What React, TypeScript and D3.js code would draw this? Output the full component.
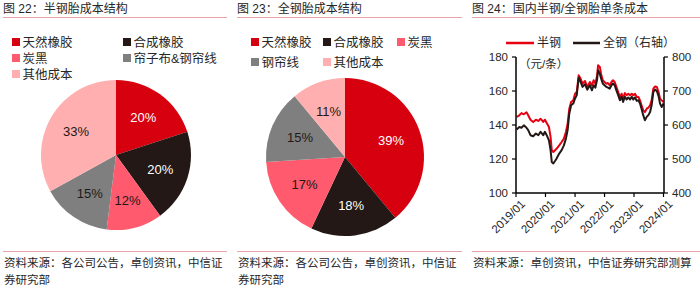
import React from 'react'
import * as d3 from 'd3'

const FONT = '"Liberation Sans", Arial, "Noto Sans CJK SC", sans-serif'
const TEXT = '#262626'
const RULE = '#E8A3A6'

// 图 22 半钢胎
const semiLabels = ['天然橡胶', '合成橡胶', '炭黑', '帘子布&钢帘线', '其他成本']
const semiValues = [20, 20, 12, 15, 33]
const semiColors = ['#D7000F', '#231815', '#FF5A6E', '#7F7F7F', '#FFAFAF']

// 图 23 全钢胎
const allLabels = ['天然橡胶', '合成橡胶', '炭黑', '钢帘线', '其他成本']
const allValues = [39, 18, 17, 15, 11]
const allColors = ['#D7000F', '#231815', '#FF5A6E', '#7F7F7F', '#FFAFAF']

const darkSlices = ['#D7000F', '#231815']

// 图 24 单条成本
const costDates = [
  '2019-01-09', '2019-02-11', '2019-03-10', '2019-04-08', '2019-05-11', '2019-06-01', '2019-06-29', '2019-08-02',
  '2019-09-04', '2019-10-04', '2019-11-01', '2019-12-04', '2019-12-25', '2020-01-16', '2020-02-13', '2020-03-04',
  '2020-03-19', '2020-04-07', '2020-04-28', '2020-05-16', '2020-06-19', '2020-07-19', '2020-08-16', '2020-09-10',
  '2020-10-01', '2020-10-22', '2020-11-13', '2020-12-10', '2021-01-01', '2021-01-22', '2021-02-15', '2021-03-10',
  '2021-04-04', '2021-05-04', '2021-06-01', '2021-07-04', '2021-07-29', '2021-08-19', '2021-09-10', '2021-10-01',
  '2021-10-13', '2021-11-04', '2021-11-19', '2021-12-10', '2022-01-01', '2022-01-25', '2022-02-12', '2022-03-07',
  '2022-03-28', '2022-04-16', '2022-05-07', '2022-05-28', '2022-06-19', '2022-07-10', '2022-08-01', '2022-08-19',
  '2022-09-10', '2022-10-01', '2022-10-22', '2022-11-13', '2022-12-04', '2022-12-22', '2023-01-13', '2023-02-04',
  '2023-02-25', '2023-03-16', '2023-04-04', '2023-04-25', '2023-05-16', '2023-06-07', '2023-06-28', '2023-07-19',
  '2023-08-07', '2023-08-28', '2023-09-19', '2023-10-10', '2023-11-01', '2023-11-19', '2023-12-10', '2024-01-01'
]
// 半钢 (左轴, 元/条)
const semiCost = [
  144.7, 145.7, 147, 146.3, 147.5, 145.7, 143.1, 141.8, 143.1, 142.4, 143.7, 141.8, 143.1, 141.2, 138.8, 133,
  125.1, 124.1, 125.1, 126, 128, 130, 132, 135.9, 140.8, 149.6, 153.5, 154.5, 158.4, 159.4, 169.2, 167.3,
  164.3, 165.9, 162.4, 165.3, 163.3, 166.3, 164.3, 169.2, 175.1, 174.1, 170.2, 166.3, 165.3, 164.3, 164.7, 163.3,
  165.3, 166.3, 165.3, 162.4, 159.4, 156.5, 158.4, 155.5, 158.8, 157.5, 158.4, 157.5, 158.4, 157.5, 158.4, 156.5,
  156.5, 154.5, 151.6, 148.6, 147.6, 149.6, 150.2, 151.6, 154.5, 161.4, 162.7, 162.4, 159.4, 155.5, 154.5, 153.5
]
// 全钢 (右轴, 元/条)
const allCost = [
  587, 594, 592, 599, 592, 585, 570, 567, 575, 570, 580, 570, 580, 570, 555, 526,
  491, 487, 494, 501, 516, 526, 540, 560, 585, 634, 658, 663, 678, 688, 739, 727,
  712, 720, 704, 717, 702, 717, 710, 734, 761, 751, 737, 722, 717, 712, 710, 707,
  717, 722, 717, 702, 688, 673, 683, 668, 683, 675, 681, 675, 683, 675, 681, 671,
  673, 663, 648, 629, 614, 624, 629, 638, 658, 697, 704, 700, 685, 663, 653, 663
]
const leftTicks = [100, 120, 140, 160, 180]
const rightTicks = [400, 500, 600, 700, 800]
const yearTicks = ['2019-01-01', '2020-01-01', '2021-01-01', '2022-01-01', '2023-01-01', '2024-01-01']

const parse = d3.timeParse('%Y-%m-%d')

function Pie({ cx, cy, r, values, colors }: { cx: number; cy: number; r: number; values: number[]; colors: string[] }) {
  const arcs = d3.pie<number>().sort(null).value(d => d)(values)
  const arc = d3.arc<d3.PieArcDatum<number>>().innerRadius(0).outerRadius(r)
  const labelArc = d3.arc<d3.PieArcDatum<number>>().innerRadius(r * 0.62).outerRadius(r * 0.62)
  return (
    <g transform={`translate(${cx},${cy})`}>
      {arcs.map((a, i) => (
        <path key={i} d={arc(a) || ''} fill={colors[i]} />
      ))}
      {arcs.map((a, i) => {
        const [x, y] = labelArc.centroid(a)
        return (
          <text key={'l' + i} x={x} y={y} dy="0.36em" textAnchor="middle" fontSize={13}
            fill={darkSlices.includes(colors[i]) ? '#fff' : '#231815'}>
            {a.data}%
          </text>
        )
      })}
    </g>
  )
}

function Legend({ labels, colors, cols, y0, rowH }: { labels: string[]; colors: string[]; cols: number[]; y0: number; rowH: number }) {
  return (
    <g>
      {labels.map((l, i) => {
        const x = cols[i % cols.length]
        const y = y0 + Math.floor(i / cols.length) * rowH
        return (
          <g key={l}>
            <rect x={x} y={y - 4} width={8} height={8} fill={colors[i]} />
            <text x={x + 10.5} y={y} dy="0.36em" fontSize={12.5} fill={TEXT}>{l}</text>
          </g>
        )
      })}
    </g>
  )
}

function Frame({ x0, x1, title, source }: { x0: number; x1: number; title: string; source: string[] }) {
  return (
    <g>
      <text x={x0} y={13} fontSize={12} fill={TEXT}>{title}</text>
      <line x1={x0} x2={x1} y1={17.5} y2={17.5} stroke={RULE} strokeWidth={1} />
      <line x1={x0} x2={x1} y1={251.5} y2={251.5} stroke={RULE} strokeWidth={1} />
      {source.map((s, i) => (
        <text key={i} x={x0 + 1} y={267 + i * 17} fontSize={11.5} fill={TEXT}>{s}</text>
      ))}
    </g>
  )
}

function CostChart() {
  const left = 516
  const right = 664
  const top = 57
  const bottom = 193
  const x = d3.scaleTime().domain([parse('2019-01-01')!, parse('2024-01-01')!]).range([left, right - 0.5])
  const yL = d3.scaleLinear().domain([100, 180]).range([bottom, top])
  const yR = d3.scaleLinear().domain([400, 800]).range([bottom, top])
  const dates = costDates.map(d => parse(d)!)
  const lineL = d3.line<number>().x((_, i) => x(dates[i])).y(d => yL(d))
  const lineR = d3.line<number>().x((_, i) => x(dates[i])).y(d => yR(d))
  const fmt = d3.timeFormat('%Y/%m')
  return (
    <g>
      {/* legend */}
      <line x1={506} x2={534} y1={43} y2={43} stroke="#E60012" strokeWidth={2.5} />
      <text x={537} y={43} dy="0.36em" fontSize={12} fill={TEXT}>半钢</text>
      <line x1={573} x2={600} y1={43} y2={43} stroke="#231815" strokeWidth={2.5} />
      <text x={603} y={43} dy="0.36em" fontSize={12} fill={TEXT}>全钢（右轴）</text>
      <text x={519} y={64} dy="0.36em" fontSize={11.5} fill={TEXT}>（元/条）</text>

      <path d={lineL(semiCost) || ''} fill="none" stroke="#E60012" strokeWidth={2} strokeLinejoin="round" />
      <path d={lineR(allCost) || ''} fill="none" stroke="#231815" strokeWidth={2} strokeLinejoin="round" />

      {/* axes */}
      <line x1={left} x2={left} y1={top} y2={bottom} stroke="#000" strokeWidth={1.5} />
      <line x1={right} x2={right} y1={top} y2={bottom} stroke="#000" strokeWidth={1.5} />
      <line x1={left} x2={right} y1={bottom} y2={bottom} stroke="#000" strokeWidth={1.5} />
      {leftTicks.map(t => (
        <g key={'l' + t}>
          <line x1={left - 4} x2={left} y1={yL(t)} y2={yL(t)} stroke="#000" strokeWidth={1.2} />
          <text x={left - 8} y={yL(t)} dy="0.36em" textAnchor="end" fontSize={11.5} fill={TEXT}>{t}</text>
        </g>
      ))}
      {rightTicks.map(t => (
        <g key={'r' + t}>
          <line x1={right} x2={right + 4} y1={yR(t)} y2={yR(t)} stroke="#000" strokeWidth={1.2} />
          <text x={right + 8} y={yR(t)} dy="0.36em" fontSize={11.5} fill={TEXT}>{t}</text>
        </g>
      ))}
      {yearTicks.map(t => {
        const d = parse(t)!
        const tx = x(d)
        return (
          <g key={t}>
            <line x1={tx} x2={tx} y1={bottom} y2={bottom + 4} stroke="#000" strokeWidth={1.2} />
            <text transform={`translate(${tx + 4},${bottom + 6}) rotate(-45)`} textAnchor="end" dy="0.7em"
              fontSize={11.5} fill={TEXT}>{fmt(d)}</text>
          </g>
        )
      })}
    </g>
  )
}

export default function App() {
  return (
    <svg width={700} height={292} style={{ position: 'absolute', left: 0, top: 0, background: '#fff' }}
      fontFamily={FONT}>
      <rect width={700} height={292} fill="#fff" />
      <Frame x0={3} x1={227} title="图 22：半钢胎成本结构"
        source={['资料来源：各公司公告，卓创资讯，中信证', '券研究部']} />
      <Legend labels={semiLabels} colors={semiColors} cols={[12, 123]} y0={42} rowH={16} />
      <Pie cx={116} cy={155} r={75} values={semiValues} colors={semiColors} />

      <Frame x0={237} x1={462} title="图 23：全钢胎成本结构"
        source={['资料来源：各公司公告，卓创资讯，中信证', '券研究部']} />
      <Legend labels={allLabels} colors={allColors} cols={[251, 323, 397]} y0={42} rowH={20} />
      <Pie cx={345} cy={157} r={79} values={allValues} colors={allColors} />

      <Frame x0={472} x1={700} title="图 24：国内半钢/全钢胎单条成本"
        source={['资料来源：卓创资讯，中信证券研究部测算']} />
      <CostChart />
    </svg>
  )
}
